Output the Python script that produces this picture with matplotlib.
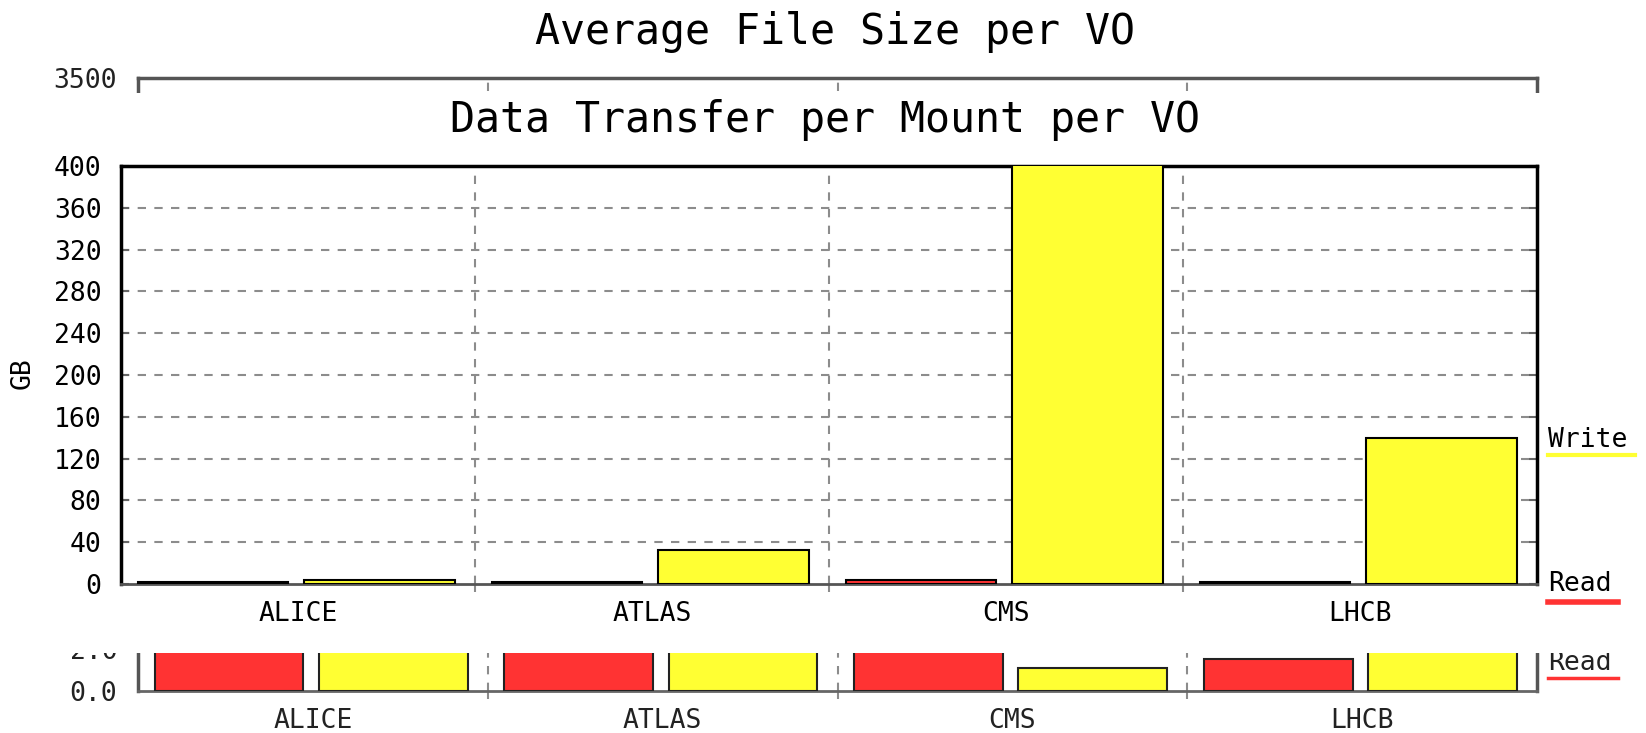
import numpy as np
import matplotlib
matplotlib.use('Agg')
import matplotlib.pyplot as plt
from matplotlib.patches import Rectangle
from matplotlib.lines import Line2D

plt.rcParams['font.family'] = ['DejaVu Sans Mono']

W, H = 1646, 733

# data
vos = ['ALICE', 'ATLAS', 'CMS', 'LHCB']
mount_read = [1.5, 1.5, 4, 1.5]        # GB per mount
mount_write = [4, 33, 420, 140]
size_read = [900, 1100, 600, 183]      # background chart, mostly hidden
size_write = [1200, 1000, 131, 1600]
mount_yticks = list(range(0, 401, 40))
size_yticks = [0, 240, 3500]
size_ylabels = ['0.0', '2.0', '3500']

RED = '#ff3333'
YEL = '#ffff33'
GRID = '#8c8c8c'


def fx(x):
    return x / W


def fy(y):
    return 1 - y / H


def pos(l, t, r, b):
    return [fx(l), fy(b), fx(r) - fx(l), fy(t) - fy(b)]


fig = plt.figure(figsize=(W / 100, H / 100), dpi=100)

# ---- background chart: Average File Size per VO
ax_bg = fig.add_axes(pos(138, 78, 1537, 691))
x = np.arange(len(vos))
ax_bg.bar(x + 0.26, size_read, width=0.425, color=RED, edgecolor='#222222', linewidth=1.5, zorder=3)
ax_bg.bar(x + 0.73, size_write, width=0.425, color=YEL, edgecolor='#222222', linewidth=1.5, zorder=3)
ax_bg.set_xlim(0, 4)
ax_bg.set_ylim(0, 3500)
for b in [1, 2, 3]:
    ax_bg.axvline(b, color=GRID, ls=(0, (4, 4)), lw=1.5, zorder=1)
ax_bg.set_yticks(size_yticks, labels=size_ylabels)
ax_bg.set_xticks([1, 2, 3], labels=['', '', ''])
ax_bg.tick_params(axis='y', length=0, pad=15, labelsize=19, colors='#222222')
ax_bg.tick_params(axis='x', length=6, width=1.5, color=GRID, direction='out')
for s in ['left', 'top', 'right']:
    ax_bg.spines[s].set_color('#555555')
    ax_bg.spines[s].set_linewidth(2.5)
ax_bg.spines['bottom'].set_color('#666666')
ax_bg.spines['bottom'].set_linewidth(2)
for i, vo in enumerate(vos):
    ax_bg.text(i + 0.5, -(721 - 691) / 613, vo, transform=ax_bg.get_xaxis_transform(),
               ha='center', va='center', fontsize=19, color='#222222')
ax_bg.text(fx(1548), fy(663), 'Read', transform=fig.transFigure, ha='left', va='center',
           fontsize=19, color='#222222', clip_on=False)
ax_bg.add_line(Line2D([fx(1548), fx(1618)], [fy(678), fy(678)], transform=fig.transFigure,
                      color=RED, lw=2.5, clip_on=False))
fig.text(fx(835), fy(32), 'Average File Size per VO', ha='center', va='center', fontsize=30)

# white sheet of the second chart lying over the first one
sheet = Rectangle((0, fy(653)), 1, fy(93) - fy(653), transform=fig.transFigure,
                  facecolor='white', edgecolor='none', zorder=1)
fig.add_artist(sheet)

# ---- foreground chart: Data Transfer per Mount per VO
ax = fig.add_axes(pos(121, 166, 1537, 584))
ax.set_zorder(2)
ax.bar(x + 0.26, mount_read, width=0.425, color=RED, edgecolor='black', linewidth=1.5, zorder=3)
ax.bar(x + 0.73, mount_write, width=0.425, color=YEL, edgecolor='black', linewidth=1.5, zorder=3)
ax.set_xlim(0, 4)
ax.set_ylim(0, 400)
for v in mount_yticks[1:-1]:
    ax.axhline(v, color=GRID, ls=(0, (4, 4)), lw=1.5, zorder=1)
for b in [1, 2, 3]:
    ax.axvline(b, color=GRID, ls=(0, (4, 4)), lw=1.5, zorder=1)
ax.set_yticks(mount_yticks)
ax.set_yticks(mount_yticks[1::2], minor=True)
ax.tick_params(axis='y', which='major', direction='in', length=6, width=1.5, color='#666666',
               left=True, right=True, pad=14, labelsize=19)
ax.tick_params(axis='y', which='minor', direction='out', length=6, width=1.5, color='#666666',
               left=True, right=True)
ax.set_xticks([1, 2, 3], labels=['', '', ''])
ax.tick_params(axis='x', length=6, width=1.5, color=GRID, direction='out')
for s in ['left', 'top', 'right']:
    ax.spines[s].set_color('black')
    ax.spines[s].set_linewidth(2.5)
ax.spines['bottom'].set_color('#555555')
ax.spines['bottom'].set_linewidth(2)
for i, vo in enumerate(vos):
    ax.text(i + 0.5, -(614 - 584) / 418, vo, transform=ax.get_xaxis_transform(),
            ha='center', va='center', fontsize=19)
fig.text(fx(23), fy(373), 'GB', rotation=90, ha='center', va='center', fontsize=19)
fig.text(fx(825), fy(120), 'Data Transfer per Mount per VO', ha='center', va='center', fontsize=30)

# legend on the right
fig.text(fx(1548), fy(440), 'Write', ha='left', va='center', fontsize=19)
fig.add_artist(Line2D([fx(1548), fx(1635)], [fy(455), fy(455)], transform=fig.transFigure,
                      color=YEL, lw=3))
fig.text(fx(1548), fy(584), 'Read', ha='left', va='center', fontsize=19)
fig.add_artist(Line2D([fx(1548), fx(1618)], [fy(602), fy(602)], transform=fig.transFigure,
                      color=RED, lw=4))

fig.savefig('out.png', dpi=100)
